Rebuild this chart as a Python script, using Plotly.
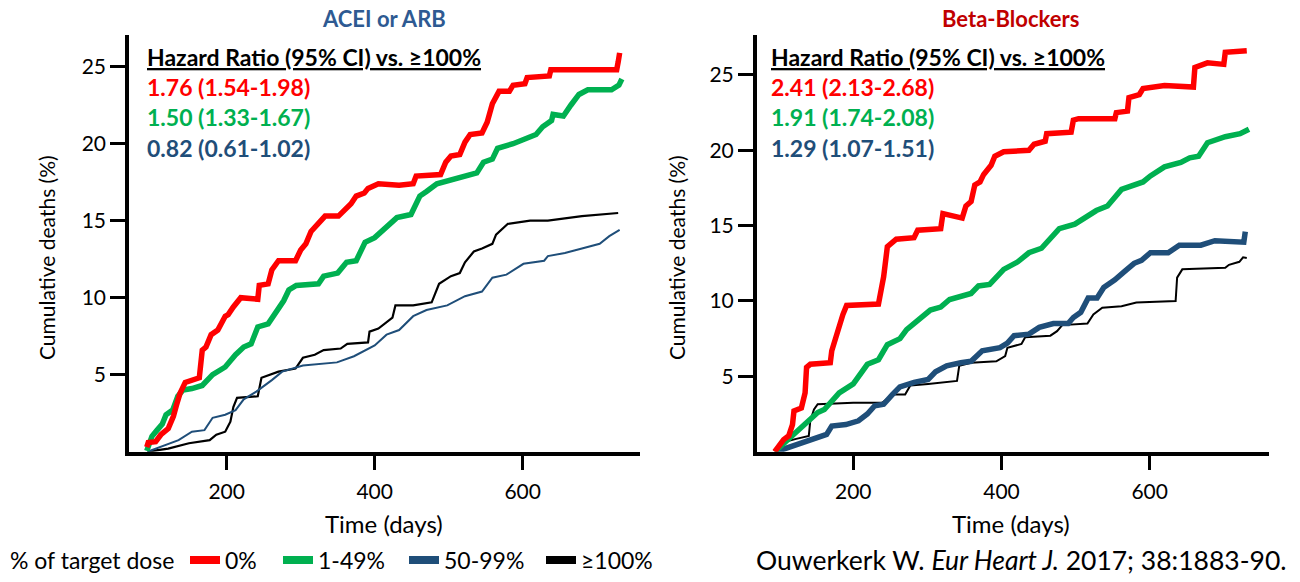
import plotly.graph_objects as go

# ---------------- DATA ----------------
series_names = ["0%", "1-49%", "50-99%", "≥100%"]
series_colors = ["#FF0000", "#00B050", "#1F4E79", "#000000"]

panel_titles = ["ACEI or ARB", "Beta-Blockers"]
panel_title_colors = ["#2E5A92", "#C00000"]

hr_header = "Hazard Ratio (95% CI) vs. ≥100%"
acei_hr = ["1.76 (1.54-1.98)", "1.50 (1.33-1.67)", "0.82 (0.61-1.02)"]
bb_hr = ["2.41 (2.13-2.68)", "1.91 (1.74-2.08)", "1.29 (1.07-1.51)"]

x_ticks = [200, 400, 600]
y_ticks = [5, 10, 15, 20, 25]

# ACEI or ARB panel
acei_0_days = [92, 94, 104, 111, 121, 128, 132, 137, 144, 153, 163, 167, 172, 179, 188, 198, 202, 209, 219,
               242, 244, 256, 261, 270, 293, 300, 307, 314, 324, 333, 351, 358, 368, 375, 386, 391, 405,
               433, 452, 456, 489, 496, 503, 515, 522, 529, 545, 552, 559, 568, 582, 587, 603, 606, 636,
               638, 727, 729, 731]
acei_0_vals = [0.3, 0.6, 0.65, 1.1, 1.5, 2.3, 3.0, 3.8, 4.5, 4.65, 4.8, 6.6, 6.8, 7.6, 7.9, 8.8, 8.9, 9.4, 10.0,
               9.9, 10.8, 10.9, 11.8, 12.4, 12.4, 13.1, 13.5, 14.3, 14.8, 15.3, 15.3, 15.6, 16.1, 16.6, 16.8,
               17.1, 17.4, 17.3, 17.4, 17.9, 18.0, 18.8, 19.2, 19.3, 20.1, 20.6, 20.7, 21.4, 22.6, 23.4,
               23.4, 23.8, 23.9, 24.3, 24.4, 24.8, 24.8, 25.3, 25.9]

acei_1_days = [92, 99, 106, 113, 118, 127, 134, 141, 153, 167, 181, 198, 212, 223, 233, 242, 256, 263, 270,
               277, 284, 294, 324, 331, 350, 362, 375, 387, 400, 416, 430, 449, 461, 470, 484, 538, 547,
               559, 566, 587, 618, 627, 639, 641, 655, 665, 676, 688, 720, 730, 734]
acei_1_vals = [0.05, 1.0, 1.4, 1.8, 2.4, 2.7, 3.6, 4.0, 4.1, 4.3, 5.0, 5.5, 6.3, 6.8, 7.0, 8.1, 8.3, 8.8, 9.3,
               9.8, 10.5, 10.8, 10.9, 11.4, 11.6, 12.3, 12.4, 13.6, 13.9, 14.6, 15.2, 15.4, 16.6, 16.9,
               17.4, 18.1, 18.8, 19.0, 19.7, 20.0, 20.6, 21.1, 21.5, 21.9, 21.8, 22.5, 23.2, 23.5, 23.5,
               23.8, 24.2]

acei_2_days = [93, 116, 135, 153, 170, 181, 198, 212, 223, 240, 252, 261, 275, 303, 349, 372, 400, 416, 433,
               452, 470, 498, 522, 545, 559, 578, 601, 629, 634, 657, 680, 704, 717, 731]
acei_2_vals = [0.0, 0.4, 0.75, 1.3, 1.4, 2.2, 2.4, 2.7, 3.4, 3.9, 4.3, 4.65, 5.2, 5.6, 5.8, 6.2, 6.9, 7.6, 7.9,
               8.8, 9.2, 9.5, 10.1, 10.4, 11.3, 11.5, 12.2, 12.4, 12.7, 12.9, 13.2, 13.5, 14.0, 14.4]

acei_3_days = [93, 121, 149, 177, 186, 198, 205, 209, 214, 242, 247, 270, 293, 303, 319, 331, 354, 363, 391,
               393, 405, 415, 424, 428, 452, 477, 487, 503, 515, 522, 534, 545, 559, 564, 580, 610, 634,
               680, 729]
acei_3_vals = [0.0, 0.2, 0.55, 0.75, 1.1, 1.3, 1.95, 2.9, 3.5, 3.6, 4.8, 5.2, 5.4, 6.1, 6.3, 6.6, 6.7, 7.0, 7.1,
               7.8, 8.0, 8.4, 8.7, 9.5, 9.5, 9.7, 10.9, 11.4, 11.6, 12.3, 13.0, 13.2, 13.5, 14.1, 14.8,
               15.0, 15.0, 15.3, 15.5]

# Beta-Blockers panel
bb_0_days = [94, 106, 113, 118, 120, 130, 135, 137, 142, 169, 171, 176, 181, 186, 191, 234, 239, 241, 246,
             251, 258, 282, 287, 318, 321, 347, 352, 359, 364, 371, 376, 386, 391, 403, 437, 444, 459, 461,
             494, 497, 504, 553, 555, 570, 572, 586, 591, 620, 659, 661, 678, 700, 702, 731]
bb_0_vals = [0.0, 0.8, 1.06, 1.8, 2.7, 2.9, 3.9, 5.6, 5.8, 5.9, 6.7, 7.6, 8.5, 9.1, 9.7, 9.8, 11.1, 11.6, 13.6,
             13.8, 14.1, 14.2, 14.7, 14.8, 15.8, 15.5, 16.3, 16.6, 17.7, 17.9, 18.4, 19.0, 19.6, 19.9, 20.0,
             20.4, 20.6, 21.1, 21.2, 22.0, 22.1, 22.1, 22.5, 22.6, 23.5, 23.7, 24.1, 24.3, 24.2, 25.5, 25.8,
             25.7, 26.5, 26.6]

bb_1_days = [94, 113, 132, 152, 161, 181, 200, 219, 234, 246, 263, 272, 292, 304, 318, 330, 359, 369, 384,
             403, 422, 437, 454, 470, 478, 499, 514, 528, 543, 553, 562, 591, 601, 620, 642, 654, 666, 678,
             702, 722, 734]
bb_1_vals = [0.0, 0.8, 1.7, 2.6, 2.8, 3.9, 4.5, 5.8, 6.1, 7.1, 7.5, 8.1, 8.9, 9.4, 9.6, 10.1, 10.5, 11.0, 11.1,
             12.1, 12.6, 13.2, 13.5, 14.4, 14.8, 15.1, 15.6, 16.0, 16.3, 16.9, 17.4, 17.9, 18.3, 18.9, 19.2,
             19.5, 19.6, 20.5, 20.9, 21.1, 21.4]

bb_2_days = [96, 108, 128, 147, 164, 171, 190, 207, 219, 229, 241, 253, 263, 282, 301, 311, 326, 345, 359,
             374, 398, 408, 417, 437, 451, 470, 490, 497, 507, 517, 529, 538, 553, 567, 579, 589, 601, 625,
             640, 669, 688, 727, 729]
bb_2_vals = [0.0, 0.2, 0.5, 0.85, 1.15, 1.7, 1.8, 2.05, 2.5, 3.05, 3.15, 3.8, 4.3, 4.6, 4.8, 5.3, 5.7, 5.9,
             6.0, 6.7, 6.9, 7.2, 7.7, 7.8, 8.25, 8.5, 8.5, 8.9, 9.25, 10.2, 10.2, 10.9, 11.4, 12.0, 12.5,
             12.7, 13.2, 13.2, 13.7, 13.7, 14.0, 13.9, 14.6]

bb_3_days = [96, 103, 123, 140, 142, 147, 152, 200, 239, 253, 270, 277, 301, 340, 343, 359, 393, 405, 408,
             427, 432, 466, 475, 482, 516, 524, 536, 562, 582, 635, 637, 644, 702, 707, 721, 726, 731]
bb_3_vals = [0.0, 0.6, 0.85, 1.05, 2.05, 2.8, 3.15, 3.25, 3.25, 3.8, 3.8, 4.4, 4.5, 4.7, 5.7, 5.9, 6.0, 6.35,
             6.9, 7.15, 7.6, 7.7, 8.0, 8.4, 8.5, 9.1, 9.55, 9.65, 9.9, 10.0, 11.55, 12.1, 12.2, 12.4, 12.6,
             12.9, 12.85]

acei_series = [(acei_0_days, acei_0_vals), (acei_1_days, acei_1_vals),
               (acei_2_days, acei_2_vals), (acei_3_days, acei_3_vals)]
bb_series = [(bb_0_days, bb_0_vals), (bb_1_days, bb_1_vals),
             (bb_2_days, bb_2_vals), (bb_3_days, bb_3_vals)]

# ---------------- STYLE ----------------
W, H = 1300, 582
FONT = "Lato"
acei_widths = [5.5, 5.5, 2, 2.2]
bb_widths = [5.5, 5.5, 5.5, 2]
legend_swatch_px = [193, 286, 412, 549]   # left edge of each legend swatch (pixels)


def fx(p):
    return p / W


def fy(p):
    return 1 - p / H


fig = go.Figure()

order = [3, 2, 1, 0]
for i in order:
    d, v = acei_series[i]
    fig.add_trace(go.Scatter(x=d, y=v, mode="lines", xaxis="x", yaxis="y",
                             line=dict(color=series_colors[i], width=acei_widths[i]),
                             showlegend=False, hoverinfo="skip"))
for i in order:
    d, v = bb_series[i]
    fig.add_trace(go.Scatter(x=d, y=v, mode="lines", xaxis="x2", yaxis="y2",
                             line=dict(color=series_colors[i], width=bb_widths[i]),
                             showlegend=False, hoverinfo="skip"))

# legend entries, one small legend per entry for exact placement
legend_ids = ["legend", "legend2", "legend3", "legend4"]
for i, name in enumerate(series_names):
    fig.add_trace(go.Scatter(x=[None], y=[None], mode="lines", name=name, xaxis="x", yaxis="y",
                             line=dict(color=series_colors[i], width=8), showlegend=True,
                             legend=legend_ids[i]))

axis_common = dict(showline=True, linecolor="black", linewidth=3.5, ticks="outside", ticklen=15,
                   tickwidth=2.5, tickcolor="black", showgrid=False, zeroline=False,
                   tickfont=dict(family=FONT, size=21, color="black"))

y_dom = [fy(451.7), fy(35)]
layout_kw = dict(
    width=W, height=H, autosize=False,
    margin=dict(l=0, r=0, t=0, b=0),
    paper_bgcolor="white", plot_bgcolor="white",
    font=dict(family=FONT, color="black"),
    xaxis=dict(domain=[fx(129), fx(640)], range=[68, 758.5], anchor="y", tickvals=x_ticks,
               ticklabelstandoff=3, **axis_common),
    yaxis=dict(domain=y_dom, range=[0, 27.06], anchor="x", tickvals=y_ticks,
               ticklabelstandoff=0, **axis_common),
    xaxis2=dict(domain=[fx(756.7), fx(1269)], range=[69.7, 761], anchor="y2", tickvals=x_ticks,
                ticklabelstandoff=3, **axis_common),
    yaxis2=dict(domain=y_dom, range=[0, 27.65], anchor="x2", tickvals=y_ticks,
                ticklabelstandoff=0, **axis_common),
)
for lid, sx in zip(legend_ids, legend_swatch_px):
    layout_kw[lid] = dict(orientation="h", x=fx(sx - 8), xanchor="left", y=fy(560), yanchor="middle",
                          bgcolor="rgba(0,0,0,0)", borderwidth=0, itemwidth=30,
                          font=dict(family=FONT, size=23, color="black"))
fig.update_layout(**layout_kw)

ann = []
ann.append(dict(text=f"<b>{panel_titles[0]}</b>", x=fx(384), y=fy(18), xref="paper", yref="paper",
                showarrow=False, xanchor="center", yanchor="middle",
                font=dict(family=FONT, size=22, color=panel_title_colors[0])))
ann.append(dict(text=f"<b>{panel_titles[1]}</b>", x=fx(1010), y=fy(18), xref="paper", yref="paper",
                showarrow=False, xanchor="center", yanchor="middle",
                font=dict(family=FONT, size=22, color=panel_title_colors[1])))

for x0, hrs in [(145, acei_hr), (769, bb_hr)]:
    ann.append(dict(text=f"<b><u>{hr_header}</u></b>", x=fx(x0), y=fy(57), xref="paper", yref="paper",
                    showarrow=False, xanchor="left", yanchor="middle",
                    font=dict(family=FONT, size=23, color="black")))
    for k, (yy, t) in enumerate(zip([87, 117, 148], hrs)):
        ann.append(dict(text=f"<b>{t}</b>", x=fx(x0), y=fy(yy), xref="paper", yref="paper",
                        showarrow=False, xanchor="left", yanchor="middle",
                        font=dict(family=FONT, size=23, color=series_colors[k])))

for xc in [46, 676]:
    ann.append(dict(text="Cumulative deaths (%)", x=fx(xc), y=fy(258), xref="paper", yref="paper",
                    showarrow=False, textangle=-90, xanchor="center", yanchor="middle",
                    font=dict(family=FONT, size=21, color="black")))
for xc in [384, 1011]:
    ann.append(dict(text="Time (days)", x=fx(xc), y=fy(523), xref="paper", yref="paper",
                    showarrow=False, xanchor="center", yanchor="middle",
                    font=dict(family=FONT, size=24, color="black")))

ann.append(dict(text="% of target dose", x=fx(8), y=fy(560), xref="paper", yref="paper",
                showarrow=False, xanchor="left", yanchor="middle",
                font=dict(family=FONT, size=23, color="black")))

ann.append(dict(text="Ouwerkerk W. <i>Eur Heart J.</i> 2017; 38:1883-90.", x=fx(1289), y=fy(560),
                xref="paper", yref="paper", showarrow=False, xanchor="right", yanchor="middle",
                font=dict(family=FONT, size=26.5, color="black")))

fig.update_layout(annotations=ann)
fig.write_html("out.html")
